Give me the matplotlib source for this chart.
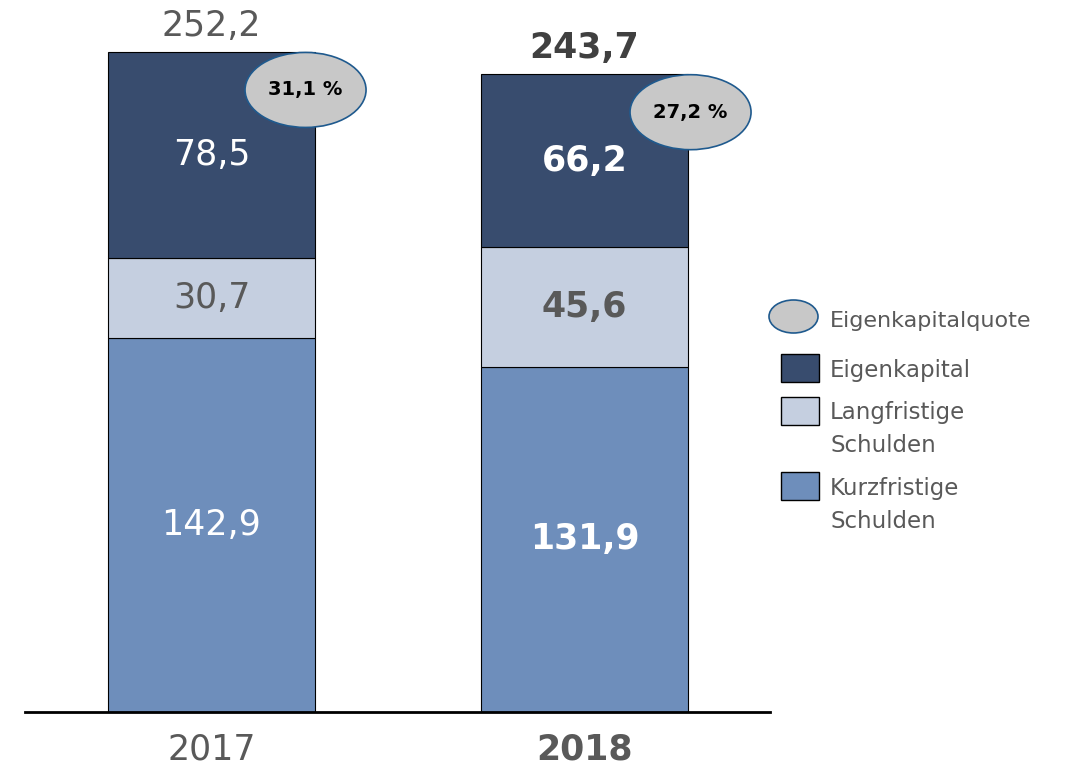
import matplotlib
matplotlib.use('Agg')
import matplotlib.pyplot as plt
from matplotlib.patches import Ellipse, Rectangle

# Daten (Mio. EUR)
years = ['2017', '2018']
kurzfristig = [142.9, 131.9]
langfristig = [30.7, 45.6]
eigenkapital = [78.5, 66.2]
totals = [252.2, 243.7]
quote = ['31,1 %', '27,2 %']
bold_year = [False, True]

c_ek = '#384c6e'
c_lang = '#c5cfe0'
c_kurz = '#6e8ebb'
c_text = '#595959'
c_ell = '#c8c8c8'
c_ell_edge = '#1f5a8e'

W, H = 1069, 768
fig = plt.figure(figsize=(W / 100, H / 100), dpi=100)
plt.rcParams['font.family'] = ['DejaVu Sans']

# Hauptachse: Grundlinie bei y=712 px, 2.617 px je Einheit
ax = fig.add_axes([25 / W, (H - 712) / H, 745 / W, 706 / H])
ax.set_xlim(-0.5, 1.497)
ax.set_ylim(0, 706 / 2.617)
ax.axis('off')
ax.axhline(0, color='black', lw=2.0, zorder=5, clip_on=False)

x = [0, 1]
bw = 0.555
bottoms2 = [k + l for k, l in zip(kurzfristig, langfristig)]
ax.bar(x, kurzfristig, bw, color=c_kurz, edgecolor='black', lw=0.8)
ax.bar(x, langfristig, bw, bottom=kurzfristig, color=c_lang, edgecolor='black', lw=0.8)
ax.bar(x, eigenkapital, bw, bottom=bottoms2, color=c_ek, edgecolor='black', lw=0.8)

def fmt(v):
    return f'{v:.1f}'.replace('.', ',')

ell_dx = [0.252, 0.284]  # Versatz der Ellipsen zur Balkenmitte
for i in range(2):
    w = 'bold' if bold_year[i] else 'normal'
    ax.text(x[i], kurzfristig[i] / 2, fmt(kurzfristig[i]), ha='center', va='center',
            color='white', fontsize=25, fontweight=w)
    ax.text(x[i], kurzfristig[i] + langfristig[i] / 2, fmt(langfristig[i]), ha='center',
            va='center', color=c_text, fontsize=25, fontweight=w)
    ax.text(x[i], bottoms2[i] + eigenkapital[i] / 2, fmt(eigenkapital[i]), ha='center',
            va='center', color='white', fontsize=25, fontweight=w)
    ax.text(x[i], totals[i] + 10, fmt(totals[i]), ha='center', va='center',
            color=c_text if not bold_year[i] else '#404040', fontsize=25, fontweight=w)
    ax.text(x[i], -14.5, years[i], ha='center', va='center', color=c_text,
            fontsize=25, fontweight=w, clip_on=False)
    # Eigenkapitalquote
    ex = x[i] + ell_dx[i]
    ey = totals[i] - 14.5
    ax.add_patch(Ellipse((ex, ey), 121 / 373, 75 / 2.617, facecolor=c_ell,
                         edgecolor=c_ell_edge, lw=1.2, zorder=6))
    ax.text(ex, ey, quote[i], ha='center', va='center', color='black',
            fontsize=14, fontweight='bold', zorder=7)

# Legende in Pixelkoordinaten
lg = fig.add_axes([0, 0, 1, 1])
lg.set_xlim(0, W)
lg.set_ylim(H, 0)
lg.axis('off')
lg.patch.set_alpha(0)

lg.add_patch(Ellipse((793.5, 316.5), 49, 33, facecolor=c_ell, edgecolor=c_ell_edge, lw=1.2))
lg.text(830, 321, 'Eigenkapitalquote', ha='left', va='center', color=c_text, fontsize=16)

entries = [
    (c_ek, 354, ['Eigenkapital']),
    (c_lang, 397, ['Langfristige', 'Schulden']),
    (c_kurz, 472, ['Kurzfristige', 'Schulden']),
]
for col, top, lines in entries:
    lg.add_patch(Rectangle((781, top), 38, 28, facecolor=col, edgecolor='black', lw=1.0))
    for j, t in enumerate(lines):
        lg.text(830, top + 16 + j * 33, t, ha='left', va='center', color=c_text, fontsize=16.5)

fig.savefig('out.png', dpi=100)
